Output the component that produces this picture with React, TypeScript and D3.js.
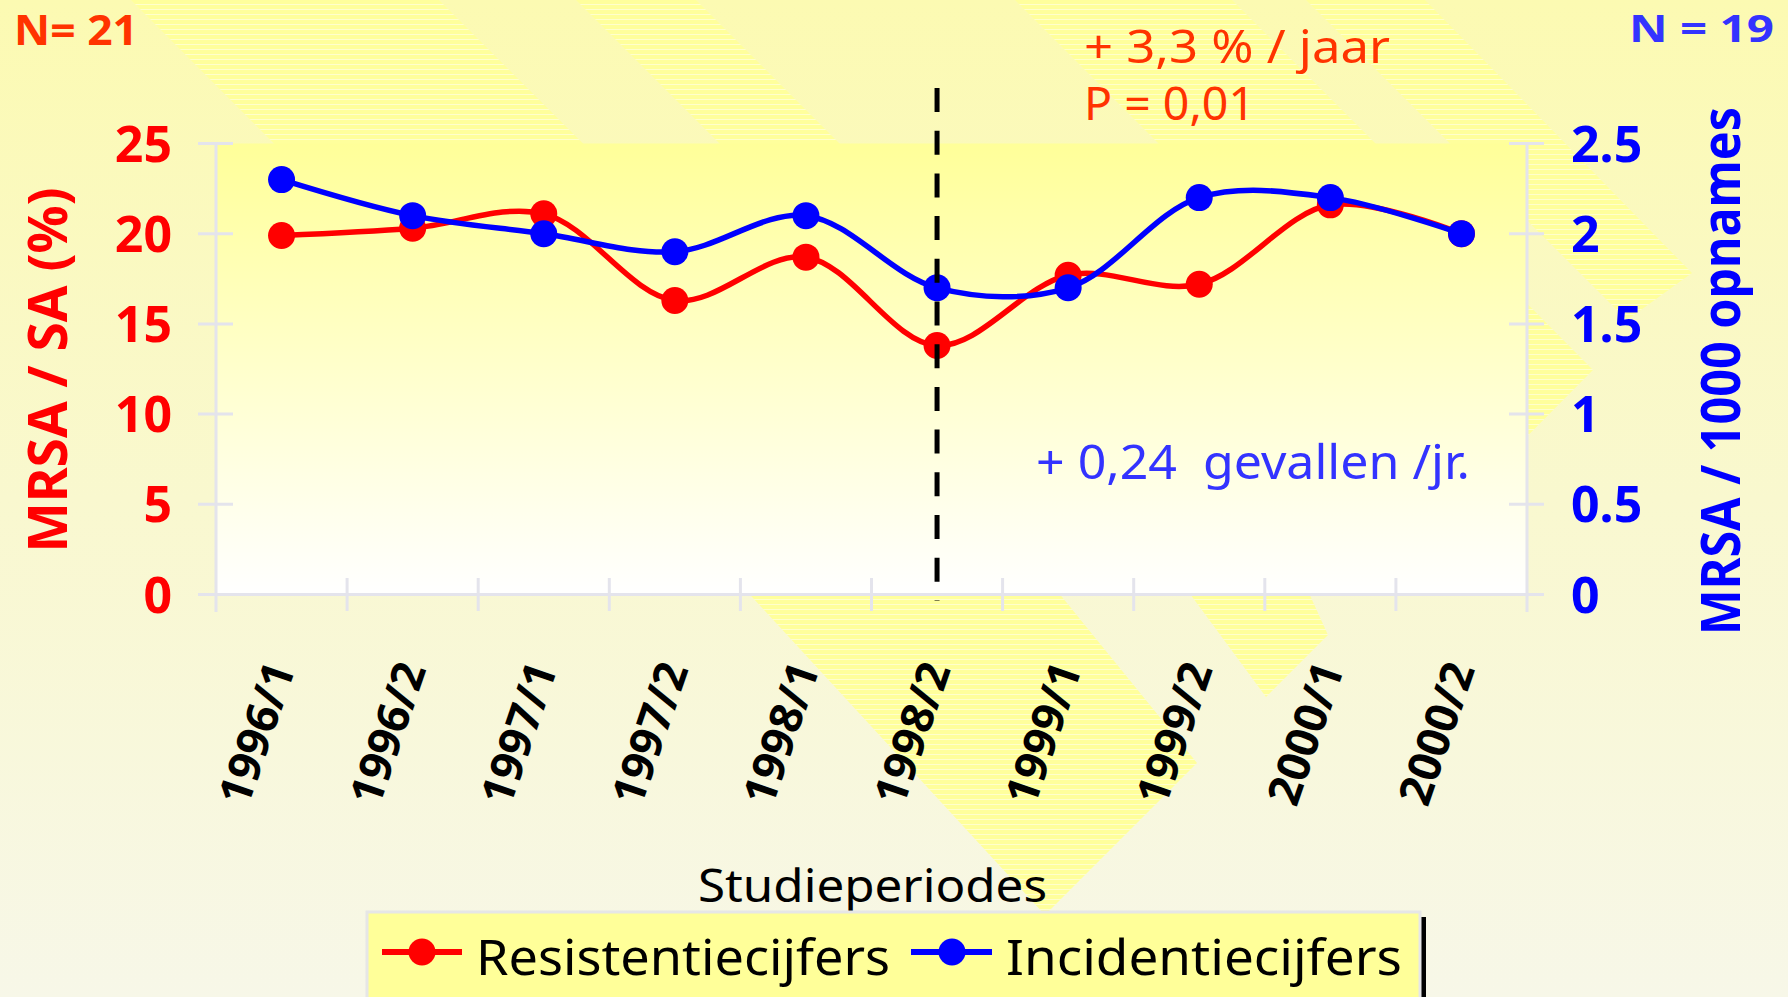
import React, { useEffect } from "react";
import * as d3 from "d3";

const periods = ["1996/1", "1996/2", "1997/1", "1997/2", "1998/1", "1998/2", "1999/1", "1999/2", "2000/1", "2000/2"];
const resistentie = [19.9, 20.3, 21.1, 16.3, 18.7, 13.8, 17.7, 17.2, 21.6, 20.0];
const incidentie = [2.3, 2.1, 2.0, 1.9, 2.1, 1.7, 1.7, 2.2, 2.2, 2.0];
const leftTicks = [0, 5, 10, 15, 20, 25];
const rightTicks = [0, 0.5, 1, 1.5, 2, 2.5];
const interventionPeriod = "1998/2";

const W = 1788;
const H = 997;
const FONT = "'Comic Sans MS', 'Noto Sans', sans-serif";
const AXIS_GREY = "#E4E4EC";

// decorative striped chevrons of the slide background
const bgShapes = [
    [[131, 0], [439, 0], [700, 260], [390, 260]],
    [[576, 0], [696, 0], [900, 204], [780, 204]],
    [[1015, 0], [1232, 0], [1400, 168], [1183, 168]],
    [[1306, 0], [1425, 0], [1692, 273], [1627, 320]],
    [[1450, 226], [1593, 370], [1450, 514]],
    [[718, 560], [1032, 560], [1197, 763], [1045, 915]],
    [[1165, 560], [1294, 560], [1328, 635], [1266, 697]],
];

export default function App() {
    useEffect(() => {
        document.body.style.margin = "0";
        document.body.style.overflow = "hidden";
    }, []);

    const x = d3.scaleBand<string>().domain(periods).range([216, 1527]);
    const yL = d3.scaleLinear().domain([0, 25]).range([594.5, 143.5]);
    const yR = d3.scaleLinear().domain([0, 2.5]).range([594.5, 143.5]);
    const cx = (p: string) => (x(p) ?? 0) + x.bandwidth() / 2;

    const redLine = d3.line<number>()
        .x((_, i) => cx(periods[i]))
        .y(d => yL(d))
        .curve(d3.curveCatmullRom);
    const blueLine = d3.line<number>()
        .x((_, i) => cx(periods[i]))
        .y(d => yR(d))
        .curve(d3.curveCatmullRom);

    const [x0, x1] = x.range();
    const bounds = periods.map(p => x(p) ?? 0).slice(1);

    return (
        <svg width={W} height={H} style={{ position: "absolute", left: 0, top: 0, display: "block" }}>
            <defs>
                <linearGradient id="bg" x1="0" y1="0" x2="0" y2="1">
                    <stop offset="0" stopColor="#FCFAB2" />
                    <stop offset="0.5" stopColor="#F9F8CF" />
                    <stop offset="1" stopColor="#F7F7E8" />
                </linearGradient>
                <linearGradient id="plotBg" x1="0" y1="0" x2="0" y2="1">
                    <stop offset="0" stopColor="#FFFF99" />
                    <stop offset="1" stopColor="#FFFFFF" />
                </linearGradient>
                <pattern id="stripes" width="20" height="5" patternUnits="userSpaceOnUse">
                    <rect width="20" height="5" fill="#FFFF9C" />
                    <rect y="4" width="20" height="1" fill="#FFFFCC" />
                </pattern>
            </defs>

            <rect width={W} height={H} fill="url(#bg)" />
            {bgShapes.map((s, i) => (
                <polygon key={i} points={s.map(p => p.join(",")).join(" ")} fill="url(#stripes)" />
            ))}

            {/* plot area */}
            <rect x={x0} y={yL(25)} width={x1 - x0} height={yL(0) - yL(25)} fill="url(#plotBg)" />

            {/* axes */}
            <g stroke={AXIS_GREY} strokeWidth={3}>
                <line x1={x0} x2={x0} y1={yL(25)} y2={612} />
                <line x1={x1} x2={x1} y1={yL(25)} y2={612} />
                <line x1={198} x2={1544} y1={yL(0)} y2={yL(0)} />
                {leftTicks.map(t => <line key={"l" + t} x1={198} x2={233} y1={yL(t)} y2={yL(t)} />)}
                {rightTicks.map(t => <line key={"r" + t} x1={1509} x2={1544} y1={yR(t)} y2={yR(t)} />)}
                {bounds.map((b, i) => <line key={"x" + i} x1={b} x2={b} y1={578} y2={611} />)}
            </g>

            {/* tick labels */}
            <g fontFamily={FONT} fontWeight="bold" fontSize={50} fill="#FF0000" textAnchor="end">
                {leftTicks.map(t => <text key={t} x={172} y={yL(t) + 18}>{t}</text>)}
            </g>
            <g fontFamily={FONT} fontWeight="bold" fontSize={50} fill="#0000FF">
                {rightTicks.map(t => <text key={t} x={1571} y={yR(t) + 18}>{String(t)}</text>)}
            </g>
            <g fontFamily={FONT} fontWeight="bold" fontSize={45} fill="#000000" textAnchor="end">
                {periods.map(p => (
                    <text key={p} transform={`translate(${cx(p) + 14},669) rotate(-71)`}>{p}</text>
                ))}
            </g>

            {/* axis titles */}
            <text transform="translate(67,370) rotate(-90)" textAnchor="middle" fontFamily={FONT}
                fontWeight="bold" fontSize={54} fill="#FF0000" textLength={365} lengthAdjust="spacingAndGlyphs">
                MRSA / SA (%)
            </text>
            <text transform="translate(1740,371) rotate(-90)" textAnchor="middle" fontFamily={FONT}
                fontWeight="bold" fontSize={53} fill="#0000FF" textLength={528} lengthAdjust="spacingAndGlyphs">
                MRSA / 1000 opnames
            </text>
            <text x={698} y={902} fontFamily={FONT} fontSize={46} fill="#000000"
                textLength={349} lengthAdjust="spacingAndGlyphs">Studieperiodes</text>

            {/* series */}
            <path d={redLine(resistentie) ?? ""} fill="none" stroke="#FF0000" strokeWidth={5.5} strokeLinejoin="round" />
            {resistentie.map((v, i) => <circle key={"r" + i} cx={cx(periods[i])} cy={yL(v)} r={13.5} fill="#FF0000" />)}
            <path d={blueLine(incidentie) ?? ""} fill="none" stroke="#0000FF" strokeWidth={5.5} strokeLinejoin="round" />
            {incidentie.map((v, i) => <circle key={"b" + i} cx={cx(periods[i])} cy={yR(v)} r={13.5} fill="#0000FF" />)}

            {/* intervention marker */}
            <line x1={cx(interventionPeriod)} x2={cx(interventionPeriod)} y1={88} y2={601}
                stroke="#000000" strokeWidth={5} strokeDasharray="24 18.7" />

            {/* annotations */}
            <g fontFamily={FONT}>
                <text x={14} y={45} fontSize={41} fontWeight="bold" fill="#FF3300" textLength={124} lengthAdjust="spacingAndGlyphs">N= 21</text>
                <text x={1629} y={42} fontSize={38} fontWeight="bold" fill="#3333FF" textLength={145} lengthAdjust="spacingAndGlyphs">N = 19</text>
                <text x={1084} y={63} fontSize={46} fill="#FF3300" textLength={306} lengthAdjust="spacingAndGlyphs">+ 3,3 % / jaar</text>
                <text x={1084} y={120} fontSize={46} fill="#FF3300" textLength={171} lengthAdjust="spacingAndGlyphs">P = 0,01</text>
                <text x={1036} y={479} fontSize={48} fill="#3333FF" textLength={434} lengthAdjust="spacingAndGlyphs"
                    style={{ whiteSpace: "pre" }}>+ 0,24  gevallen /jr.</text>
            </g>

            {/* legend */}
            <rect x={1420} y={917} width={6} height={90} fill="#000000" />
            <rect x={367} y={912} width={1053} height={100} fill="#FFFF99" stroke="#E6E6E6" strokeWidth={3} />
            <line x1={382} x2={462} y1={952} y2={952} stroke="#FF0000" strokeWidth={6} />
            <circle cx={422} cy={952} r={13.5} fill="#FF0000" />
            <line x1={911} x2={992} y1={952} y2={952} stroke="#0000FF" strokeWidth={6} />
            <circle cx={952} cy={952} r={13.5} fill="#0000FF" />
            <g fontFamily={FONT} fontSize={50} fill="#000000">
                <text x={476} y={975} textLength={414} lengthAdjust="spacingAndGlyphs">Resistentiecijfers</text>
                <text x={1006} y={975} textLength={396} lengthAdjust="spacingAndGlyphs">Incidentiecijfers</text>
            </g>
        </svg>
    );
}
